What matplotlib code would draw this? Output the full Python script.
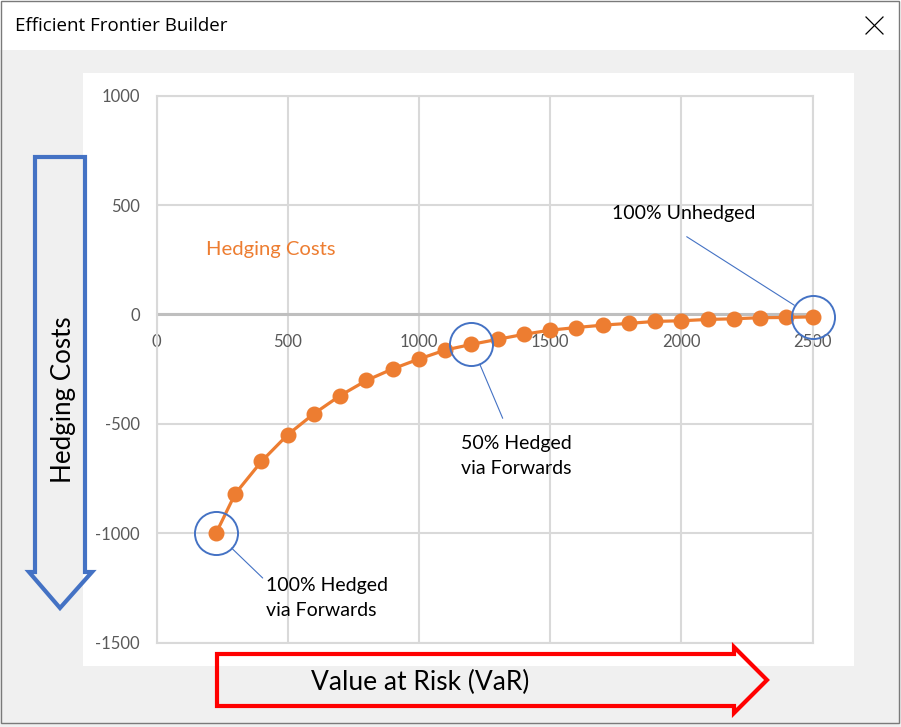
import matplotlib
matplotlib.use("Agg")
import matplotlib.pyplot as plt
import matplotlib.transforms as mtransforms
from matplotlib.patches import Rectangle, Polygon
from matplotlib.lines import Line2D

plt.rcParams["axes.unicode_minus"] = False

# ---------------- data ----------------
var_values = [227, 300, 400, 500, 600, 700, 800, 900, 1000, 1100, 1200, 1300,
              1400, 1500, 1600, 1700, 1800, 1900, 2000, 2100, 2200, 2300, 2400, 2500]
hedging_costs = [-1000, -820, -672, -550, -454, -371, -302, -249, -204, -163, -137, -114,
                 -91, -72, -60, -49, -41, -32, -29, -23, -20, -15, -14, -11]
x_ticks = [0, 500, 1000, 1500, 2000, 2500]
y_ticks = [-1500, -1000, -500, 0, 500, 1000]
callout_labels = ["100% Hedged\nvia Forwards", "50% Hedged\nvia Forwards", "100% Unhedged"]
callout_index = [0, 10, 23]

W, H = 901, 727
ORANGE = "#ED7D31"
BLUE = "#4472C4"
GRID = "#D9D9D9"
TXT = "#595959"
FONT = ["Lato", "DejaVu Sans"]

fig = plt.figure(figsize=(W / 100, H / 100), dpi=100)
fig.patch.set_facecolor("#F0F0F0")

# pixel transform (origin top-left)
px = mtransforms.Affine2D().scale(1 / W, -1 / H).translate(0, 1) + fig.transFigure

# window chrome
fig.add_artist(Rectangle((0, 0), W, 50, transform=px, facecolor="white", edgecolor="none", zorder=0.2))
fig.add_artist(Rectangle((1, 1), 897.5, 722, transform=px, facecolor="none", edgecolor="#7A7A7A", lw=1.0, zorder=0.3))
fig.add_artist(Rectangle((83, 73), 771, 592.5, transform=px, facecolor="white", edgecolor="none", zorder=0.4))
fig.text(15, 26, "Efficient Frontier Builder", transform=px, fontsize=13.5, family=["Open Sans", "DejaVu Sans"],
         va="center", ha="left", color="black")
fig.add_artist(Line2D([866, 883], [17, 34], transform=px, color="black", lw=0.9, zorder=3))
fig.add_artist(Line2D([866, 883], [34, 17], transform=px, color="black", lw=0.9, zorder=3))

# main axes
left, right, top, bottom = 156.5, 812.5, 95.7, 642.5
ax = fig.add_axes([left / W, (H - bottom) / H, (right - left) / W, (bottom - top) / H])
ax.set_zorder(1)
ax.set_facecolor("none")
ax.set_xlim(x_ticks[0], x_ticks[-1])
ax.set_ylim(y_ticks[0], y_ticks[-1])
ax.set_xticks(x_ticks)
ax.set_yticks(y_ticks)
ax.grid(True, color=GRID, lw=1.5)
ax.set_axisbelow(True)
for s in ["top", "right", "left"]:
    ax.spines[s].set_color(GRID)
    ax.spines[s].set_linewidth(1.5)
ax.spines["bottom"].set_position(("data", 0))
ax.spines["bottom"].set_color("#BFBFBF")
ax.spines["bottom"].set_linewidth(2.2)
ax.spines["bottom"].set_zorder(1.5)
ax.axhline(y_ticks[0], color=GRID, lw=1.5, clip_on=False, zorder=0.5)
ax.tick_params(length=0, labelsize=12, labelcolor=TXT)
ax.tick_params(axis="y", pad=12)
ax.tick_params(axis="x", pad=14)
for lab in ax.get_xticklabels() + ax.get_yticklabels():
    lab.set_family(FONT)

ax.plot(var_values, hedging_costs, color=ORANGE, lw=2.3, marker="o", ms=10.5,
        mfc=ORANGE, mec=ORANGE, zorder=3, clip_on=False)

# callout circles
for i in callout_index:
    ax.plot(var_values[i], hedging_costs[i], marker="o", ms=31, mfc="none", mec=BLUE,
            mew=1.4, zorder=4, clip_on=False)

# callout texts and leader lines
text_pos = [(266, 598, "left"), (516, 456, "center"), (684, 213, "center")]
line_start = [(262.7, 578), (502.7, 418.3), (686.7, 236.7)]
for k, i in enumerate(callout_index):
    tx, ty, ha = text_pos[k]
    fig.text(tx, ty, callout_labels[k], transform=px, fontsize=14,
             family=FONT, ha=ha, va="center", linespacing=1.5, color="black", zorder=5)
    ax.annotate("", xy=(var_values[i], hedging_costs[i]), xycoords="data",
                xytext=line_start[k], textcoords=px,
                arrowprops=dict(arrowstyle="-", color=BLUE, lw=0.8, shrinkA=0, shrinkB=15.5),
                annotation_clip=False, zorder=4)

fig.text(271, 249, "Hedging Costs", transform=px, fontsize=14.6, family=FONT, color=ORANGE,
         ha="center", va="center", zorder=5)

# axis arrows
red = Polygon([(217, 654), (734, 654), (734, 647), (767, 680), (734, 713), (734, 706), (217, 706)],
              closed=True, transform=px, facecolor="none", edgecolor="#FF0000", lw=3.0,
              joinstyle="miter", zorder=2)
fig.add_artist(red)
fig.text(420, 682, "Value at Risk (VaR)", transform=px, fontsize=19, family=FONT,
         ha="center", va="center", color="black", zorder=5)

blue = Polygon([(35, 157), (85, 157), (85, 572), (92, 572), (60, 608), (29, 572), (35, 572)],
               closed=True, transform=px, facecolor="none", edgecolor=BLUE, lw=3.0,
               joinstyle="miter", zorder=2)
fig.add_artist(blue)
fig.text(63, 400, "Hedging Costs", transform=px, fontsize=18.7, family=FONT, rotation=90,
         ha="center", va="center", color="black", zorder=5)

fig.savefig("out.png", dpi=100, facecolor=fig.get_facecolor())
